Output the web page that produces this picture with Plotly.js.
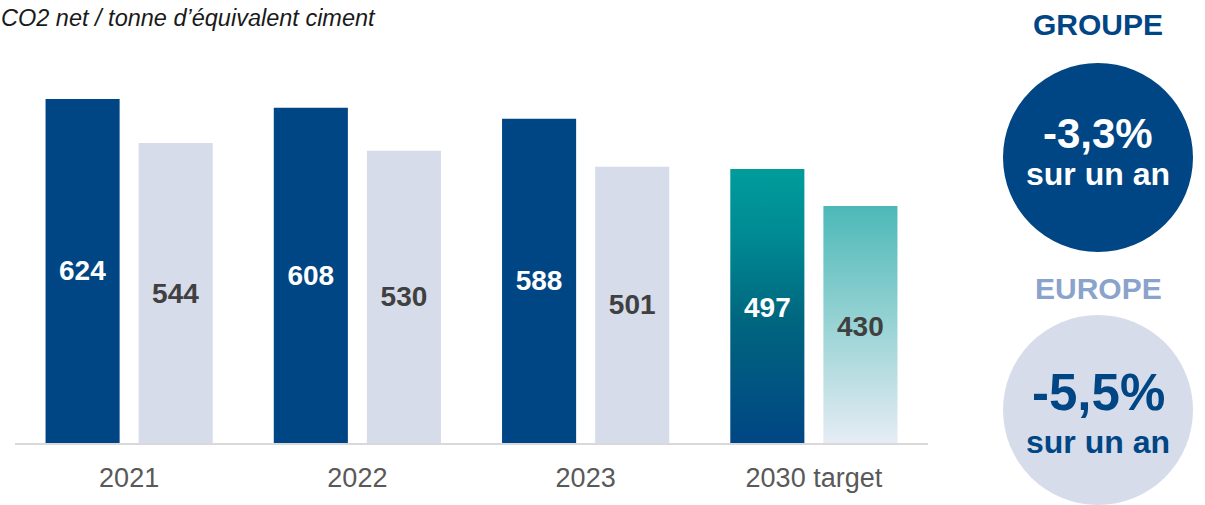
<!DOCTYPE html>
<html>
<head>
<meta charset="utf-8">
<script src="https://cdn.plot.ly/plotly-3.0.1.min.js"></script>
<style>html,body{margin:0;padding:0;background:#fff;}#chart{width:1205px;height:505px;}</style>
</head>
<body>
<div id="chart"></div>
<script>
// ---- data ----
const categories = ['2021', '2022', '2023', '2030 target'];
const groupeValues = [624, 608, 588, 497];
const europeValues = [544, 530, 501, 430];
const chartTitle = 'CO2 net / tonne d\u2019équivalent ciment';
const groupeLabel = 'GROUPE';
const europeLabel = 'EUROPE';
const groupeChange = '-3,3%';
const europeChange = '-5,5%';
const changeSuffix = 'sur un an';

// ---- styles ----
const FONT = 'Liberation Sans, Arial, sans-serif';
const DARK = '#004684';
const LIGHT = '#d6dcea';
const BAR_W = 0.3246;
const OFF_G = -0.3662;
const OFF_E = 0.0417;
const LABEL_SIZE = 28;
const targetIdx = categories.length - 1;

const xs = categories.map((c, i) => i);
const isTarget = i => i === targetIdx;

const traces = [];
traces.push({
  type: 'bar', x: xs, y: groupeValues, width: BAR_W, offset: OFF_G,
  marker: {color: xs.map(i => isTarget(i) ? 'rgba(0,0,0,0)' : DARK), line: {width: 0}},
  text: groupeValues.map((v, i) => isTarget(i) ? '' : String(v)),
  textposition: 'inside', insidetextanchor: 'middle', textangle: 0,
  textfont: {family: FONT, size: LABEL_SIZE, color: '#ffffff', weight: 'bold'},
  hoverinfo: 'skip', showlegend: false
});
traces.push({
  type: 'bar', x: xs, y: europeValues, width: BAR_W, offset: OFF_E,
  marker: {color: xs.map(i => isTarget(i) ? 'rgba(0,0,0,0)' : LIGHT), line: {width: 0}},
  text: europeValues.map((v, i) => isTarget(i) ? '' : String(v)),
  textposition: 'inside', insidetextanchor: 'middle', textangle: 0,
  textfont: {family: FONT, size: LABEL_SIZE, color: '#404040', weight: 'bold'},
  hoverinfo: 'skip', showlegend: false
});

// gradient bars for the target
function gradientBar(i, v, off, scale) {
  const x0 = xs[i] + off, x1 = xs[i] + off + BAR_W;
  return {
    type: 'scatter', mode: 'lines', x: [x0, x1, x1, x0, x0], y: [0, 0, v, v, 0],
    fill: 'toself', line: {width: 0, color: 'rgba(0,0,0,0)'},
    fillgradient: {type: 'vertical', colorscale: scale},
    hoverinfo: 'skip', showlegend: false
  };
}
traces.push(gradientBar(targetIdx, groupeValues[targetIdx], OFF_G,
  [[0, '#004684'], [0.45, '#00667f'], [0.75, '#008a93'], [1, '#009c9c']]));
traces.push(gradientBar(targetIdx, europeValues[targetIdx], OFF_E,
  [[0, '#e6ecf4'], [0.5, '#98d3d4'], [1, '#4db8b8']]));

// layout helpers: pixel -> paper
const L = 15, T = 57, W = 913, H = 386;
const px = p => (p - L) / W;
const py = p => (T + H - p) / H;

const targetLabels = [
  {text: String(groupeValues[targetIdx]), xref: 'x', yref: 'y',
   x: xs[targetIdx] + OFF_G + BAR_W / 2, y: groupeValues[targetIdx] / 2, yshift: -2,
   xanchor: 'center', yanchor: 'middle', showarrow: false,
   font: {family: FONT, size: LABEL_SIZE, color: '#ffffff', weight: 'bold'}},
  {text: String(europeValues[targetIdx]), xref: 'x', yref: 'y',
   x: xs[targetIdx] + OFF_E + BAR_W / 2, y: europeValues[targetIdx] / 2, yshift: -2,
   xanchor: 'center', yanchor: 'middle', showarrow: false,
   font: {family: FONT, size: LABEL_SIZE, color: '#404040', weight: 'bold'}}
];

const layout = {
  width: 1205, height: 505,
  margin: {l: L, r: 1205 - L - W, t: T, b: 505 - T - H, pad: 0},
  paper_bgcolor: '#ffffff', plot_bgcolor: '#ffffff',
  showlegend: false,
  xaxis: {
    range: [-0.5, 3.5], tickvals: xs, ticktext: categories,
    showgrid: false, zeroline: false, showline: true, linecolor: '#d9d9d9', linewidth: 2,
    ticks: '', ticklabelstandoff: 10,
    tickfont: {family: FONT, size: 27, color: '#595959'}, fixedrange: true
  },
  yaxis: {range: [0, 700], visible: false, showgrid: false, zeroline: false, fixedrange: true},
  shapes: [
    {type: 'circle', xref: 'paper', yref: 'paper', x0: px(1003), x1: px(1193), y0: py(252), y1: py(63),
     fillcolor: DARK, line: {width: 0}, layer: 'below'},
    {type: 'circle', xref: 'paper', yref: 'paper', x0: px(1003), x1: px(1193), y0: py(505), y1: py(315),
     fillcolor: LIGHT, line: {width: 0}, layer: 'below'}
  ],
  annotations: targetLabels.concat([
    {text: chartTitle, xref: 'paper', yref: 'paper', x: px(-1), y: py(18), xanchor: 'left', yanchor: 'middle',
     showarrow: false, font: {family: FONT, size: 23.5, color: '#1a1a1a', style: 'italic'}},
    {text: groupeLabel, xref: 'paper', yref: 'paper', x: px(1098), y: py(25), xanchor: 'center', yanchor: 'middle',
     showarrow: false, font: {family: FONT, size: 30, color: DARK, weight: 'bold'}},
    {text: groupeChange, xref: 'paper', yref: 'paper', x: px(1098), y: py(133), xanchor: 'center', yanchor: 'middle',
     showarrow: false, font: {family: FONT, size: 42, color: '#ffffff', weight: 'bold'}},
    {text: changeSuffix, xref: 'paper', yref: 'paper', x: px(1098), y: py(174), xanchor: 'center', yanchor: 'middle',
     showarrow: false, font: {family: FONT, size: 32, color: '#ffffff', weight: 'bold'}},
    {text: europeLabel, xref: 'paper', yref: 'paper', x: px(1098), y: py(288), xanchor: 'center', yanchor: 'middle',
     showarrow: false, font: {family: FONT, size: 30, color: '#8aa3cd', weight: 'bold'}},
    {text: europeChange, xref: 'paper', yref: 'paper', x: px(1098), y: py(392), xanchor: 'center', yanchor: 'middle',
     showarrow: false, font: {family: FONT, size: 51, color: DARK, weight: 'bold'}},
    {text: changeSuffix, xref: 'paper', yref: 'paper', x: px(1098), y: py(442), xanchor: 'center', yanchor: 'middle',
     showarrow: false, font: {family: FONT, size: 32, color: DARK, weight: 'bold'}}
  ])
};

Plotly.newPlot('chart', traces, layout, {staticPlot: true, displayModeBar: false});
</script>
</body>
</html>
